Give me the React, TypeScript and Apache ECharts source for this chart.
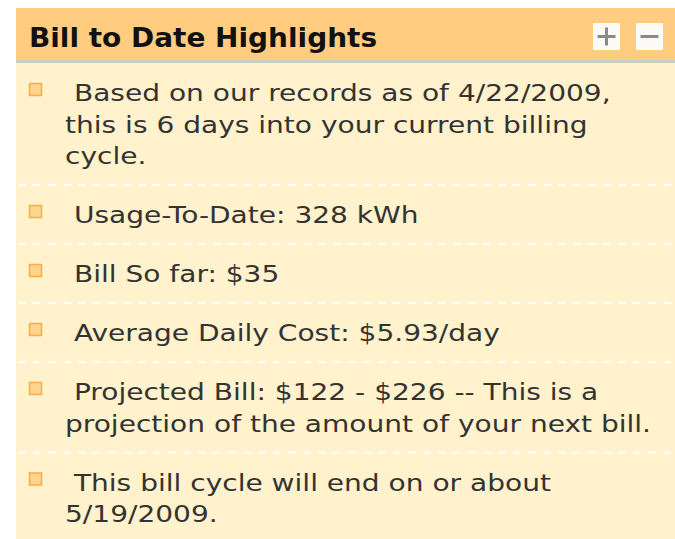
import React, { useEffect, useRef } from "react";
import * as echarts from "echarts";

// ---- content ----
const panelTitle = "Bill to Date Highlights";
const headerButtons = ["+", "−"];
const item1Lines = [" Based on our records as of 4/22/2009,", "this is 6 days into your current billing", "cycle."];
const item2Lines = [" Usage-To-Date: 328 kWh"];
const item3Lines = [" Bill So far: $35"];
const item4Lines = [" Average Daily Cost: $5.93/day"];
const item5Lines = [" Projected Bill: $122 - $226 -- This is a", "projection of the amount of your next bill."];
const item6Lines = [" This bill cycle will end on or about", "5/19/2009."];
const highlightItems = [item1Lines, item2Lines, item3Lines, item4Lines, item5Lines, item6Lines];

// ---- layout / style ----
const W = 675;
const H = 539;
const PANEL_X = 16;
const PANEL_Y = 8;
const HEADER_H = 52;
const BORDER_H = 3;
const BODY_FONT = "'DejaVu Sans', Verdana, sans-serif";
const TITLE_FONT = "'DejaVu Sans', Verdana, sans-serif";
const BODY_SCALE_X = 1.22;
const TITLE_SCALE_X = 1.075;
const LINE_H = 31.5;
const PAD_TOP = 30;
const PAD_BOTTOM = 29;
const TEXT_X = 65;

function buildGraphics() {
  const els: any[] = [];
  // header
  els.push({ type: "rect", shape: { x: PANEL_X, y: PANEL_Y, width: W - PANEL_X, height: HEADER_H }, style: { fill: "#FFCC80" } });
  els.push({ type: "rect", shape: { x: PANEL_X, y: PANEL_Y + HEADER_H, width: W - PANEL_X, height: BORDER_H }, style: { fill: "#C9CFC4" } });
  const bodyTop = PANEL_Y + HEADER_H + BORDER_H;
  els.push({ type: "rect", shape: { x: PANEL_X, y: bodyTop, width: W - PANEL_X, height: H - bodyTop }, style: { fill: "#FFF2CC" } });
  els.push({
    type: "text",
    x: 29,
    y: 38,
    scaleX: TITLE_SCALE_X,
    style: { text: panelTitle, fill: "#111111", font: `bold 26px ${TITLE_FONT}`, textVerticalAlign: "middle" },
  });
  // buttons
  const btnX = [593, 636];
  headerButtons.forEach((b, i) => {
    els.push({ type: "rect", shape: { x: btnX[i], y: 23, width: 27, height: 27 }, style: { fill: "#FBFAF6" } });
    const cx = btnX[i] + 13.5;
    els.push({ type: "rect", shape: { x: cx - 9, y: 35, width: 18, height: 3 }, style: { fill: "#8A8A8A" } });
    if (b === "+") {
      els.push({ type: "rect", shape: { x: cx - 1.5, y: 27.5, width: 3, height: 18 }, style: { fill: "#8A8A8A" } });
    }
  });
  // items
  let y = bodyTop + PAD_TOP;
  highlightItems.forEach((lines, idx) => {
    els.push({
      type: "rect",
      shape: { x: 29.5, y: y - 9.5, width: 12, height: 12 },
      style: { fill: "#FFD48C", stroke: "#FBAA48", lineWidth: 1.5 },
    });
    lines.forEach((ln, j) => {
      els.push({
        type: "text",
        x: TEXT_X,
        y: y + j * LINE_H,
        scaleX: BODY_SCALE_X,
        style: { text: ln, fill: "#333333", font: `23px ${BODY_FONT}`, textVerticalAlign: "middle" },
      });
    });
    const last = y + (lines.length - 1) * LINE_H;
    if (idx < highlightItems.length - 1) {
      const sy = last + PAD_BOTTOM;
      els.push({
        type: "line",
        shape: { x1: PANEL_X + 2, y1: sy, x2: W, y2: sy },
        style: { stroke: "#FFFFFF", lineWidth: 2, lineDash: [8, 7] },
      });
      y = sy + PAD_TOP;
    }
  });
  return els;
}

export default function App() {
  const ref = useRef<HTMLDivElement>(null);
  useEffect(() => {
    if (!ref.current) return;
    const chart = echarts.init(ref.current, undefined, { renderer: "svg" });
    chart.setOption({
      animation: false,
      backgroundColor: "#FFFFFF",
      graphic: { elements: buildGraphics() },
    });
    return () => chart.dispose();
  }, []);
  return <div ref={ref} style={{ position: "fixed", left: 0, top: 0, width: W, height: H }} />;
}
